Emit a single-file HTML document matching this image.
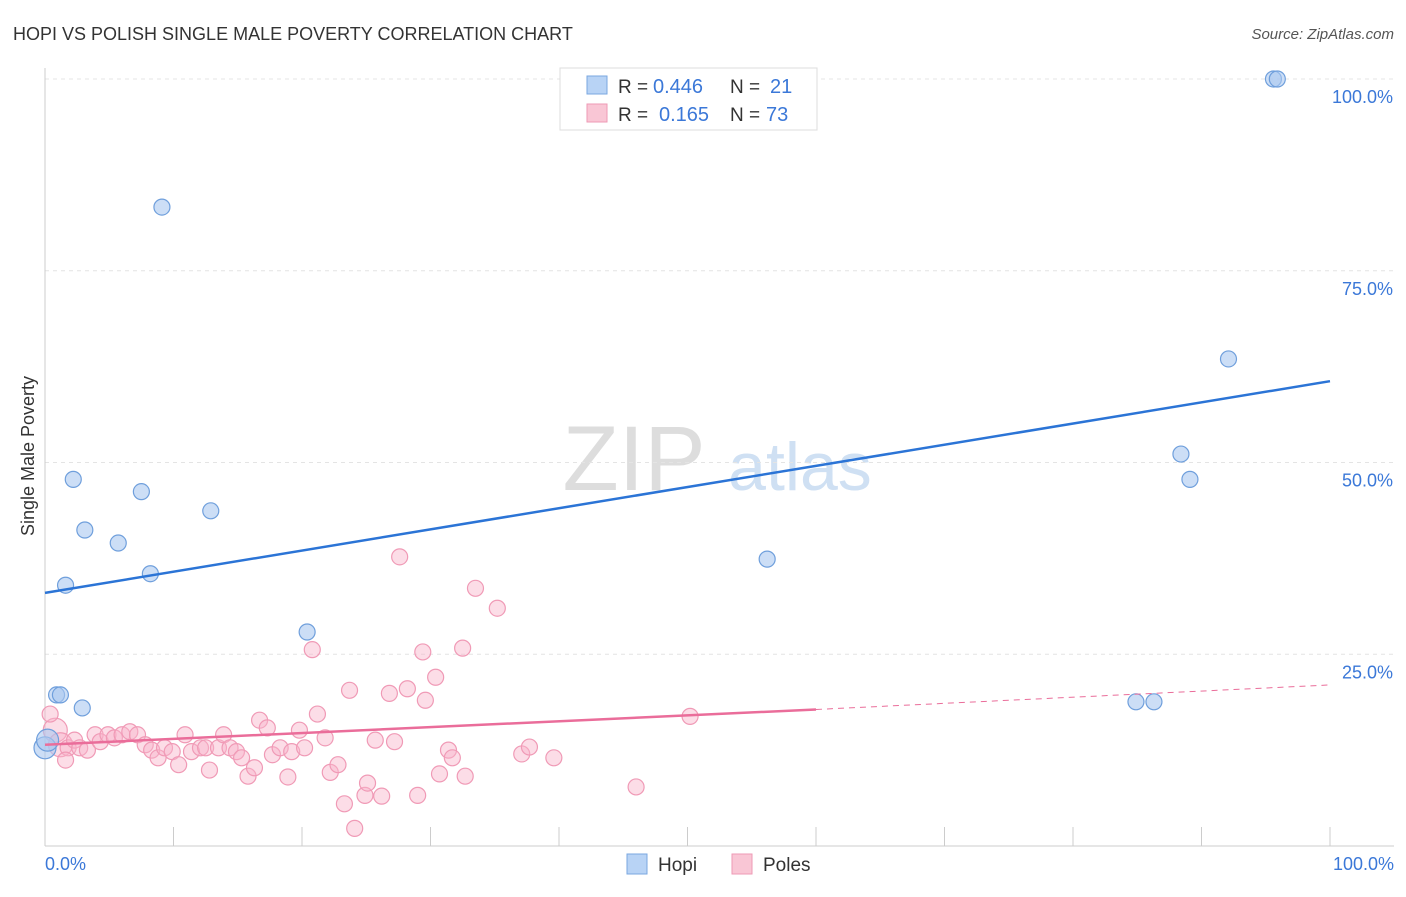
<!DOCTYPE html>
<html><head><meta charset="utf-8"><style>
body{margin:0;background:#fff;font-family:"Liberation Sans",sans-serif}
svg text{font-family:"Liberation Sans",sans-serif}
</style></head><body>
<svg id="c" width="1406" height="892">
<text x="13" y="40" font-size="18" fill="#333">HOPI VS POLISH SINGLE MALE POVERTY CORRELATION CHART</text>
<text x="1394" y="39" font-size="15" fill="#555" text-anchor="end" font-style="italic">Source: ZipAtlas.com</text>
<text x="634" y="490" font-size="92" fill="#ddd" font-family="Liberation Serif" text-anchor="middle">ZIP</text>
<text x="800" y="490" font-size="68" fill="#cfe0f3" text-anchor="middle">atlas</text>
<text transform="translate(34,456) rotate(-90)" font-size="18" fill="#333" text-anchor="middle">Single Male Poverty</text>
<g id="grid"></g><g id="marks"></g>
<g>
<rect x="560" y="68" width="257" height="62" fill="#fff" stroke="#ddd"/>
<rect x="587" y="76" width="20" height="18" fill="#b8d3f5" stroke="#7aa7e0"/>
<rect x="587" y="104" width="20" height="18" fill="#f9c6d5" stroke="#ee9ab5"/>
<text x="618" y="93" font-size="19" fill="#333">R =</text>
<text x="653" y="93" font-size="20" fill="#3b78d8">0.446</text>
<text x="730" y="93" font-size="19" fill="#333">N =</text>
<text x="770" y="93" font-size="20" fill="#3b78d8">21</text>
<text x="618" y="121" font-size="19" fill="#333">R =</text>
<text x="659" y="121" font-size="20" fill="#3b78d8">0.165</text>
<text x="730" y="121" font-size="19" fill="#333">N =</text>
<text x="766" y="121" font-size="20" fill="#3b78d8">73</text>
</g>
<g>
<rect x="627" y="854" width="20" height="20" fill="#b8d3f5" stroke="#7aa7e0"/>
<text x="658" y="871" font-size="19" fill="#333">Hopi</text>
<rect x="732" y="854" width="20" height="20" fill="#f9c6d5" stroke="#ee9ab5"/>
<text x="763" y="871" font-size="19" fill="#333">Poles</text>
</g>
</svg>
<script>
const hopiX=[95.6,95.9,9.1,92.1,88.4,89.1,2.2,7.5,12.9,3.1,5.7,56.2,8.2,1.6,20.4,0.9,1.2,2.9,84.9,86.3,0,0.2];
const hopiY=[100,100,83.3,63.5,51.1,47.8,47.8,46.2,43.7,41.2,39.5,37.4,35.5,34.0,27.9,19.7,19.7,18.0,18.8,18.8,12.8,13.8];
const polesX=[0.8,1.2,1.8,2.3,2.7,3.3,3.9,4.3,4.9,5.4,6.0,6.6,7.2,7.8,8.3,8.8,9.3,9.9,10.4,10.9,11.4,12.1,12.5,12.8,13.5,13.9,14.4,14.9,15.3,15.8,16.3,16.7,17.3,17.7,18.3,18.9,19.2,19.8,20.2,20.8,21.2,21.8,22.2,22.8,23.3,23.7,24.1,24.9,25.1,25.7,26.2,26.8,27.2,27.6,28.2,29.0,29.4,29.6,30.4,30.7,31.4,31.7,32.5,32.7,33.5,35.2,37.1,37.7,39.6,46.0,50.2,0.4,1.6];
const polesY=[15.1,13.2,12.8,13.8,12.8,12.5,14.5,13.6,14.5,14.1,14.5,14.9,14.5,13.2,12.5,11.5,12.8,12.3,10.6,14.5,12.3,12.8,12.8,9.9,12.8,14.5,12.8,12.3,11.5,9.1,10.2,16.4,15.4,11.9,12.8,9.0,12.3,15.1,12.8,25.6,17.2,14.1,9.6,10.6,5.5,20.3,2.3,6.6,8.2,13.8,6.5,19.9,13.6,37.7,20.5,6.6,25.3,19.0,22.0,9.4,12.5,11.5,25.8,9.1,33.6,31.0,12.0,12.9,11.5,7.7,16.9,17.2,11.2];
const yTicks=[25,50,75,100];
const xTickLabels=["0.0%","100.0%"];
const hopiTrend=[33.0,60.6];
const polesTrend=[13.2,17.8,21.0];
const X=v=>45+v*12.85, Y=v=>846-v*7.67;
const NS="http://www.w3.org/2000/svg";
function mk(p,t,a){const e=document.createElementNS(NS,t);for(const k in a)e.setAttribute(k,a[k]);p.appendChild(e);return e;}
const g=document.getElementById('grid'),m=document.getElementById('marks');
yTicks.forEach(t=>{
 const l=mk(g,'line',{x1:45,x2:1394,y1:Y(t),y2:Y(t),stroke:'#e4e4e4','stroke-dasharray':'4,4'});
 
 
 const tx=mk(g,'text',{x:1393,y:Y(t)+24,'font-size':18,fill:'#3b78d8','text-anchor':'end'});tx.textContent=t.toFixed(1)+'%';
 
 
});
let a=mk(g,'line',{x1:45,x2:45,y1:68,y2:846,stroke:'#ccc'});
a=mk(g,'line',{x1:45,x2:1394,y1:846,y2:846,stroke:'#ccc'});
for(let i=0;i<=10;i++){const t=mk(g,'line',{x1:X(i*10),x2:X(i*10),y1:827,y2:846,stroke:'#ccc'});
 
 }
[[0,'start',45],[100,'end',1394]].forEach((d,i)=>{const t=mk(g,'text',{x:d[2],y:870,'font-size':18,fill:'#3b78d8','text-anchor':d[1]});t.textContent=xTickLabels[i];
 
 });
polesX.forEach((x,i)=>{const c=mk(m,'circle',{cx:X(x),cy:Y(polesY[i]),r:i<2?12:8,fill:'rgba(248,180,202,0.45)',stroke:'#f09ab6','stroke-width':1.2});
 
 });
hopiX.forEach((x,i)=>{const c=mk(m,'circle',{cx:X(x),cy:Y(hopiY[i]),r:i>=20?11:8,fill:'rgba(170,200,240,0.6)',stroke:'#6f9fdc','stroke-width':1.2});
 
 });
let l=mk(m,'line',{x1:X(0),y1:Y(hopiTrend[0]),x2:X(100),y2:Y(hopiTrend[1]),stroke:'#2b74d6','stroke-width':2.5});

l=mk(m,'line',{x1:X(0),y1:Y(polesTrend[0]),x2:X(60),y2:Y(polesTrend[1]),stroke:'#ea6d9a','stroke-width':2.5});

l=mk(m,'line',{x1:X(60),y1:Y(polesTrend[1]),x2:X(100),y2:Y(polesTrend[2]),stroke:'#ea6d9a','stroke-width':1,'stroke-dasharray':'6,5'});

</script>
</body></html>
